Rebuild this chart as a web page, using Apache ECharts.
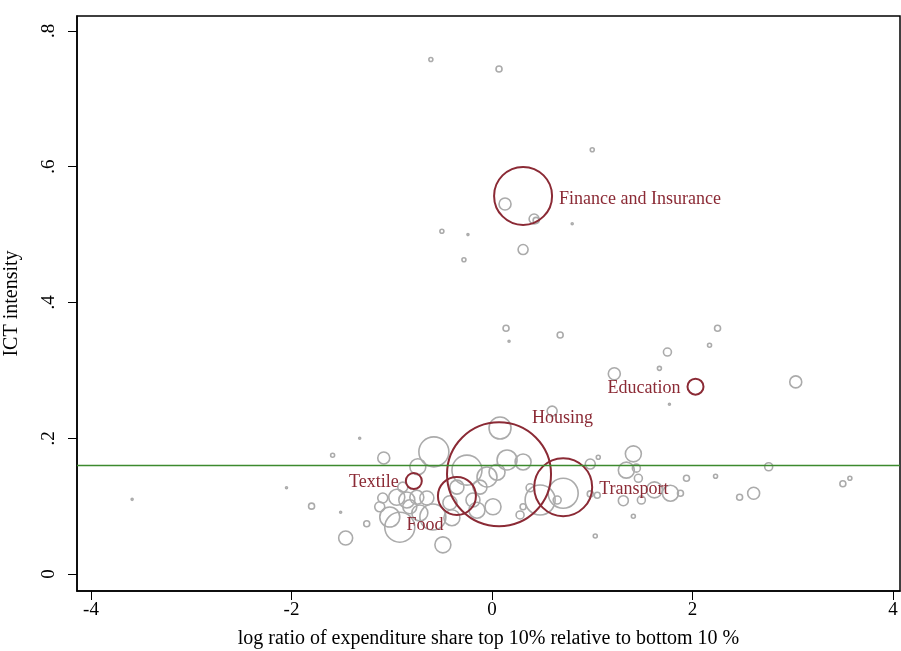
<!DOCTYPE html>
<html><head><meta charset="utf-8">
<script src="https://cdn.jsdelivr.net/npm/echarts@6/dist/echarts.min.js"></script>
<style>html,body{margin:0;padding:0;background:#fff}#c{width:901px;height:651px}</style>
</head><body><div id="c"></div>
<script>
// gray sectors: x, y, marker diameter (relative weight)
const grayX=[-0.61,0.07,1.0,0.13,0.42,0.44,0.8,-0.5,-0.24,-0.28,0.31,0.14,0.17,0.68,2.25,2.17,1.75,1.67,1.22,3.03,1.77,0.6,0.08,-1.32,-1.59,-1.08,-0.58,1.06,0.98,1.41,1.46,1.34,2.23,2.76,1.94,3.57,3.5,2.47,2.61,1.88,1.78,1.62,1.49,1.31,1.41,1.03,-2.05,-1.8,-3.59,-1.51,-1.46,-1.25,-0.49,
-0.74,-0.25,0.15,0.31,-0.92,-0.59,-1.12,0.01,0.28,0.31,0.48,0.65,0.38,-0.05,0.05,-0.12,-0.95,-0.85,-0.75,-0.65,-1.02,-0.82,-0.42,-0.35,-0.15,-0.72,-0.89,-1.09,-0.19,-0.40,0.71,0.98,1.05,1.44];
const grayY=[0.758,0.744,0.625,0.545,0.523,0.521,0.516,0.505,0.5,0.463,0.478,0.362,0.343,0.352,0.362,0.337,0.327,0.303,0.295,0.283,0.25,0.24,0.215,0.2,0.175,0.171,0.18,0.172,0.162,0.177,0.141,0.153,0.144,0.158,0.141,0.141,0.133,0.113,0.119,0.119,0.119,0.124,0.109,0.108,0.085,0.056,0.127,0.1,0.11,0.091,0.053,0.074,0.043,
0.158,0.153,0.168,0.165,0.069,0.084,0.099,0.099,0.087,0.099,0.109,0.109,0.127,0.143,0.150,0.128,0.113,0.109,0.113,0.112,0.084,0.099,0.105,0.128,0.094,0.090,0.128,0.112,0.109,0.083,0.119,0.118,0.116,0.156];
const grayS=[4,6,4,12,10,6,2,4,2,4,10,6,2,6,6,4,8,4,12,12,2,10,22,2,4,12,30,4,10,16,8,16,4,8,6,4,6,6,12,6,16,16,8,10,4,4,2,6,2,2,14,6,16,
16,30,20,16,30,26,10,16,8,6,30,8,8,20,16,14,16,16,14,14,20,14,14,14,16,16,10,10,14,16,30,6,6,8];
// highlighted sectors
const redNames=["Finance and Insurance","Education","Housing","Transport","Food","Textile"];
const redX=[0.31,2.03,0.07,0.71,-0.35,-0.78];
const redY=[0.557,0.276,0.147,0.128,0.115,0.137];
const redS=[58,16,104,58,38,16];
const refLine=0.161;
const xTicks=[-4,-2,0,2,4];
const labPos=['right','left','right','right','bottom','left'];
const labOff=[[0,3],[0,2],[-26,-56],[0,2],[-32,-6],[0,1]];
const ch=echarts.init(document.getElementById('c'));
const F='"Liberation Serif","Times New Roman",serif';
ch.setOption({
 animation:false,
 grid:{left:77,top:16,right:1,bottom:60,containLabel:false,outerBoundsMode:'none',show:true,borderColor:'#000',borderWidth:1.5,backgroundColor:'transparent'},
 xAxis:{type:'value',min:-4.14,max:4.07,interval:2,
  name:'log ratio of expenditure share top 10% relative to bottom 10 %',nameLocation:'middle',nameGap:38,
  nameTextStyle:{fontFamily:F,fontSize:20,color:'#000'},
  axisLine:{show:true,onZero:false,lineStyle:{color:'#000',width:1.5}},
  axisTick:{show:true,length:9,lineStyle:{color:'#000'},customValues:xTicks},
  axisLabel:{fontFamily:F,fontSize:19,color:'#000',margin:10,customValues:xTicks,formatter:v=>v<0?'-'+Math.abs(v):''+v},
  splitLine:{show:false}},
 yAxis:{type:'value',min:-0.025,max:0.822,
  name:'ICT intensity',nameLocation:'middle',nameGap:55,
  nameTextStyle:{fontFamily:F,fontSize:20,color:'#000'},
  axisLine:{show:true,onZero:false,lineStyle:{color:'#000',width:1.5}},
  axisTick:{show:true,length:9,lineStyle:{color:'#000'},customValues:[0,0.2,0.4,0.6,0.8]},
  axisLabel:{fontFamily:F,fontSize:19,color:'#000',rotate:90,margin:18,customValues:[0,0.2,0.4,0.6,0.8],
   formatter:v=>v===0?'0':('.'+Math.round(v*10))},
  splitLine:{show:false}},
 series:[
  {type:'scatter',data:grayX.map((x,i)=>[x,grayY[i],grayS[i]]),symbolSize:d=>d[2],
   itemStyle:{color:'rgba(0,0,0,0)',borderColor:'#ababab',borderWidth:1.6,opacity:1}},
  {type:'line',data:[],
   markLine:{silent:true,symbol:'none',label:{show:false},lineStyle:{color:'#3c8a2e',width:1.4,type:'solid',opacity:1},
    data:[{yAxis:refLine}]}},
  {type:'scatter',data:redX.map((x,i)=>({value:[x,redY[i],redS[i]],name:redNames[i],
    label:{show:true,position:labPos[i],offset:labOff[i],formatter:redNames[i],distance:6}})),
   symbolSize:d=>d[2],
   label:{fontFamily:F,fontSize:18,color:'#8b2a35'},
   itemStyle:{color:'rgba(0,0,0,0)',borderColor:'#8b2a35',borderWidth:2,opacity:1}}
 ]
});
</script></body></html>
